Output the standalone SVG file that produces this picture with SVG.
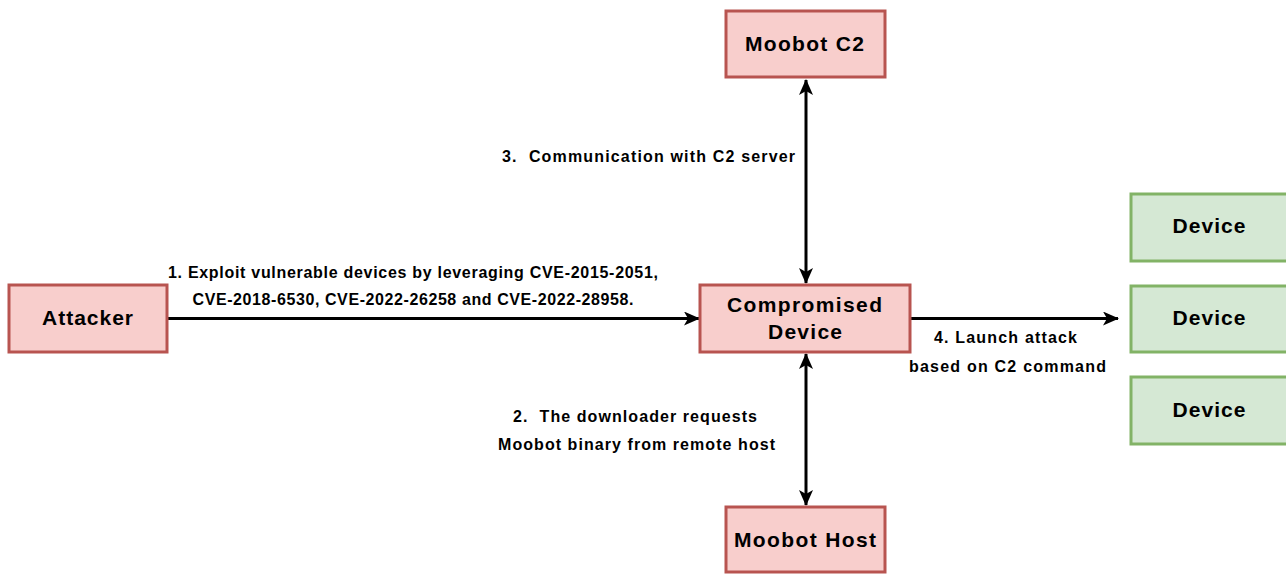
<svg xmlns="http://www.w3.org/2000/svg" width="1286" height="574" viewBox="0 0 1286 574">
<style>
.red{fill:#f8cecc;stroke:#b85450;stroke-width:3}
.green{fill:#d5e8d4;stroke:#82b366;stroke-width:3}
.nt{font-family:"Liberation Sans",Arial,sans-serif;font-weight:bold;font-size:21px;fill:#000;text-anchor:middle}
.lt{font-family:"Liberation Sans",Arial,sans-serif;font-weight:bold;font-size:16px;fill:#000;text-anchor:middle;white-space:pre}
.edge{stroke:#000;stroke-width:3;fill:none}
</style>
<defs>
<marker id="ah" viewBox="0 0 16 14" refX="15" refY="7" markerWidth="16" markerHeight="14" markerUnits="userSpaceOnUse" orient="auto-start-reverse">
<path d="M0,0 L16,7 L0,14 L4,7 Z" fill="#000"/>
</marker>
</defs>
<rect width="1286" height="574" fill="#fff"/>
<g id="connectors">
<path class="edge" d="M167,318.5 L699,318.5" marker-end="url(#ah)"/>
<path class="edge" d="M806,80 L806,283" marker-start="url(#ah)" marker-end="url(#ah)"/>
<path class="edge" d="M806,354 L806,505" marker-start="url(#ah)" marker-end="url(#ah)"/>
<path class="edge" d="M911,318.5 L1118,318.5" marker-end="url(#ah)"/>
<text class="lt" x="413" y="278" textLength="490" lengthAdjust="spacing">1. Exploit vulnerable devices by leveraging CVE-2015-2051,</text>
<text class="lt" x="413" y="305" textLength="441" lengthAdjust="spacing">CVE-2018-6530, CVE-2022-26258 and CVE-2022-28958.</text>
<text class="lt" x="648.5" y="162" textLength="293" lengthAdjust="spacing" xml:space="preserve">3.  Communication with C2 server</text>
<text class="lt" x="635" y="422" textLength="244" lengthAdjust="spacing" xml:space="preserve">2.  The downloader requests</text>
<text class="lt" x="636.5" y="450" textLength="277" lengthAdjust="spacing">Moobot binary from remote host</text>
<text class="lt" x="1005.5" y="343" textLength="143" lengthAdjust="spacing">4. Launch attack</text>
<text class="lt" x="1007.5" y="372" textLength="197" lengthAdjust="spacing">based on C2 command</text>
</g>
<g id="attacker">
<rect class="red" x="9" y="285" width="158" height="67"/>
<text class="nt" x="87.5" y="325" textLength="91" lengthAdjust="spacing">Attacker</text>
</g>
<g id="moobot-c2">
<rect class="red" x="726" y="11" width="159" height="66"/>
<text class="nt" x="804.5" y="51" textLength="119" lengthAdjust="spacing">Moobot C2</text>
</g>
<g id="compromised">
<rect class="red" x="700" y="285" width="210" height="67"/>
<text class="nt" x="804.5" y="312" textLength="155" lengthAdjust="spacing">Compromised</text>
<text class="nt" x="805" y="339" textLength="74" lengthAdjust="spacing">Device</text>
</g>
<g id="moobot-host">
<rect class="red" x="726" y="507" width="159" height="65"/>
<text class="nt" x="805" y="547" textLength="142" lengthAdjust="spacing">Moobot Host</text>
</g>
<g id="device1">
<rect class="green" x="1131" y="194" width="158" height="67"/>
<text class="nt" x="1209" y="233" textLength="73" lengthAdjust="spacing">Device</text>
</g>
<g id="device2">
<rect class="green" x="1131" y="286" width="158" height="66"/>
<text class="nt" x="1209" y="325" textLength="73" lengthAdjust="spacing">Device</text>
</g>
<g id="device3">
<rect class="green" x="1131" y="377" width="158" height="67"/>
<text class="nt" x="1209" y="417" textLength="73" lengthAdjust="spacing">Device</text>
</g>
</svg>
